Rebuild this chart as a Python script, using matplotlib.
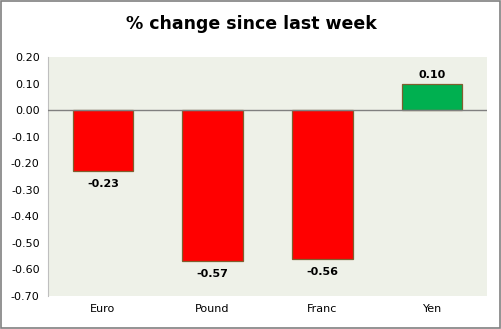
import matplotlib
matplotlib.use("Agg")
import matplotlib.pyplot as plt
from matplotlib.patches import Rectangle

# 数据
categories = ["Euro", "Pound", "Franc", "Yen"]
values = [-0.23, -0.57, -0.56, 0.10]
y_ticks = [0.20, 0.10, 0.00, -0.10, -0.20, -0.30, -0.40, -0.50, -0.60, -0.70]

RED = "#FF0000"
GREEN = "#00B050"
BG = "#EEF1E8"

fig = plt.figure(figsize=(5.02, 3.29), dpi=100)
ax = fig.add_axes([0.0956, 0.1003, 0.8745, 0.7264])
ax.set_facecolor(BG)

colors = [GREEN if v >= 0 else RED for v in values]
x = range(len(categories))
ax.bar(x, values, width=0.55, color=colors, edgecolor="#7F5F2F", linewidth=0.9, zorder=3)

ax.axhline(0, color="#808080", lw=1.0, zorder=4)

# 数据标签
for xi, v in zip(x, values):
    if v < 0:
        ax.text(xi, v - 0.03, f"{v:.2f}", ha="center", va="top", fontsize=8, fontweight="bold")
    else:
        ax.text(xi, v + 0.015, f"{v:.2f}", ha="center", va="bottom", fontsize=8, fontweight="bold")

ax.set_xlim(-0.5, len(categories) - 0.5)
ax.set_ylim(-0.70, 0.20)
ax.set_yticks(y_ticks)
ax.set_yticklabels([f"{t:.2f}" for t in y_ticks], fontsize=8)
ax.set_xticks(list(x))
ax.set_xticklabels(categories, fontsize=8)
ax.tick_params(axis="both", length=0, pad=6)

for s in ["top", "right", "bottom"]:
    ax.spines[s].set_visible(False)
ax.spines["left"].set_color("#BFBFBF")
ax.spines["left"].set_linewidth(0.8)

fig.suptitle("% change since last week", fontsize=12.5, fontweight="bold", y=0.955)

# 外边框
fig.patches.append(Rectangle((0.002, 0.003), 0.995, 0.994, transform=fig.transFigure,
                             fill=False, edgecolor="#808080", lw=1.2))

fig.savefig("out.png", dpi=100)
